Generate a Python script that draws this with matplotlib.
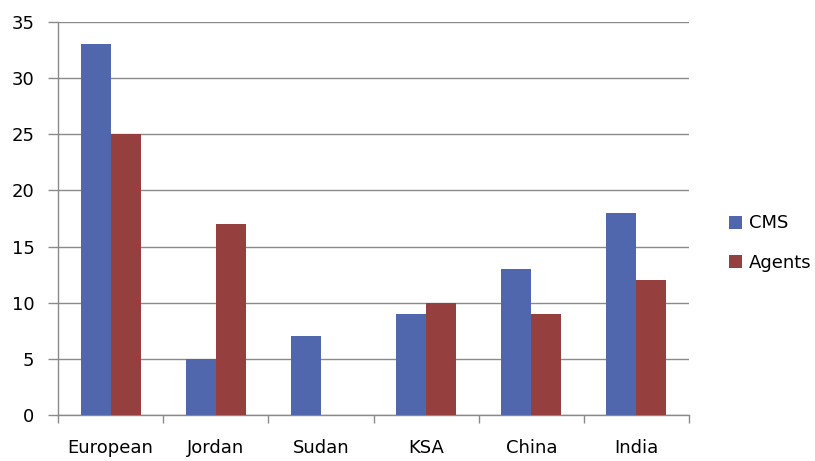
import numpy as np
import matplotlib
matplotlib.use("Agg")
import matplotlib.pyplot as plt

categories = ["European", "Jordan", "Sudan", "KSA", "China", "India"]
cms = [33, 5, 7, 9, 13, 18]
agents = [25, 17, 0, 10, 9, 12]
yticks = [0, 5, 10, 15, 20, 25, 30, 35]

blue = "#5067ae"
red = "#953f3e"
grey = "#8a8a8a"

fig = plt.figure(figsize=(8.15, 4.61), dpi=100)
ax = fig.add_axes([0.0712, 0.0998, 0.7742, 0.8525])

x = np.arange(len(categories))
w = 0.285
ax.bar(x - w / 2, cms, w, color=blue, label="CMS", zorder=3)
ax.bar(x + w / 2, agents, w, color=red, label="Agents", zorder=3)

ax.set_xlim(-0.5, len(categories) - 0.5)
ax.set_ylim(0, 35)
ax.set_yticks(yticks)
ax.yaxis.grid(True, color=grey, linewidth=1, zorder=0)

# labels sit under the category centres, tick marks on the boundaries
ax.set_xticks(x)
ax.set_xticklabels(categories)
ax.set_xticks(np.arange(len(categories) + 1) - 0.5, minor=True)
ax.tick_params(axis="x", which="major", length=0, pad=17, labelsize=13)
ax.tick_params(axis="x", which="minor", length=6, color=grey, width=1)
ax.tick_params(axis="y", length=7, color=grey, width=1, pad=10, labelsize=13)

for s in ["top", "right"]:
    ax.spines[s].set_visible(False)
for s in ["left", "bottom"]:
    ax.spines[s].set_color(grey)
    ax.spines[s].set_linewidth(1)

fig.legend(loc="upper left", bbox_to_anchor=(0.874, 0.57), frameon=False,
           fontsize=13, handlelength=0.75, handleheight=0.75,
           handletextpad=0.4, labelspacing=1.2)

fig.savefig("out.png", dpi=100)
